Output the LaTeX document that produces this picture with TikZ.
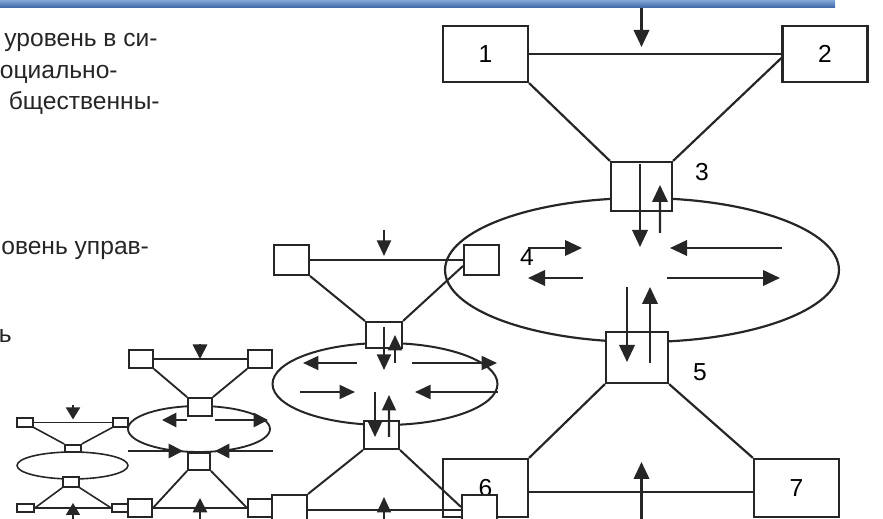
\documentclass[tikz,border=0pt]{standalone}
\usepackage{fontspec}
\setmainfont{Liberation Sans}
\usetikzlibrary{arrows.meta, shapes.geometric, calc}

\definecolor{bandeau}{RGB}{58,100,164}
\definecolor{bandeauclair}{RGB}{132,168,216}

\begin{document}
\begin{tikzpicture}[
  x=0.02cm, y=-0.02cm,
  font=\fontsize{14}{16}\selectfont,
  bloc/.style={
    draw=black!85, fill=white, line width=1.25pt, inner sep=0pt,
    minimum width=1.7cm, minimum height=1.12cm
  },
  moyen/.style={
    draw=black!85, fill=white, line width=1.15pt, inner sep=0pt,
    minimum width=0.7cm, minimum height=0.6cm
  },
  petit/.style={
    draw=black!85, fill=white, line width=1.05pt, inner sep=0pt,
    minimum width=0.48cm, minimum height=0.36cm
  },
  mini/.style={
    draw=black!85, fill=white, line width=0.9pt, inner sep=0pt,
    minimum width=0.32cm, minimum height=0.17cm
  },
  ovale/.style={draw=black!85, ellipse, line width=1.15pt, inner sep=0pt},
  lien/.style={line width=1.15pt, draw=black!85},
  fleche/.style={
    -{Triangle[length=3.4mm, width=3.1mm]},
    line width=1.25pt, draw=black!85
  },
  petite/.style={
    -{Triangle[length=3.1mm, width=2.8mm]},
    line width=1.15pt, draw=black!85
  },
  pointe/.style={
    -{Triangle[length=2.9mm, width=2.9mm]},
    line width=1pt, draw=black!85
  },
  texte/.style={anchor=base east, inner sep=0pt, text=black!85,
    font=\fontsize{14}{16}\selectfont}
]
  \clip (0,0) rectangle (883,519);

  % bandeau du haut
  \shade[top color=bandeauclair, bottom color=bandeau] (0,0) rectangle (835,8);

  % texte coupe a gauche
  \node[texte] (t1) at (158,47) {уровень в си-};
  \node[texte] (t2) at (118,79) {оциально-};
  \node[texte] (t3) at (160,110) {бщественны-};
  \node[texte, anchor=base west] (t4) at (1,255) {овень управ-};
  \node[texte] (t5) at (12,343) {ь};

  % niveau 1
  \node[ovale, line width=1.25pt, minimum width=7.88cm, minimum height=2.88cm] (e4) at (642,270) {};
  \node[bloc] (b1) at (485.5,54) {1};
  \node[bloc] (b2) at (825,54) {2};
  \node[bloc, minimum width=1.22cm, minimum height=0.98cm] (b3) at (641.5,186.5) {};
  \node[bloc, minimum width=1.24cm, minimum height=1.02cm] (b5) at (637,357.5) {};
  \node[bloc, minimum height=1.16cm] (b6) at (485.5,488) {6};
  \node[bloc, minimum height=1.16cm] (b7) at (796.5,488) {7};
  \node (n3) at (702,172) {3};
  \node (n4) at (527,257) {4};
  \node (n5) at (700,372) {5};

  \draw[lien, line width=1.25pt] (b1.east) -- (b2.west);
  \draw[lien, line width=1.25pt] (b1.south east) -- (b3.north west);
  \draw[lien, line width=1.25pt] ($(b2.west)+(0,4)$) -- (b3.north east);
  \draw[lien, line width=1.25pt] (b5.south west) -- (b6.north east);
  \draw[lien, line width=1.25pt] (b5.south east) -- (b7.north west);
  \draw[lien, line width=1.25pt] ($(b6.east)+(0,4)$) -- ($(b7.west)+(0,4)$);

  \coordinate (haut1) at (b3 |- b1.east);
  \coordinate (bas1) at (b3 |- b6.east);
  \draw[fleche] ($(haut1)+(0,-46)$) -- ($(haut1)+(0,-7)$);
  \draw[fleche] ($(bas1)+(0,40)$) -- ($(bas1)+(0,-26)$);

  \draw[fleche] ($(b3.north)+(-1.5,3)$) -- ($(e4)+(-2,-23)$);
  \draw[fleche] ($(e4)+(18,-37)$) -- ($(b3)+(18.5,-1.5)$);
  \draw[fleche] ($(e4)+(-15,17)$) -- ($(b5)+(-10,4.5)$);
  \draw[fleche] ($(b5)+(13,5.5)$) -- ($(e4)+(8,17)$);
  \foreach \xa/\xb/\dy in {-114/-60/-22, -59/-114/8, 140/28/-22, 25/138/8}
    \draw[fleche] ($(e4)+(\xa,\dy)$) -- ($(e4)+(\xb,\dy)$);

  % niveau 2
  \node[ovale, minimum width=4.5cm, minimum height=1.64cm] (e2) at (385,384) {};
  \node[moyen] (m1) at (291.5,260) {};
  \node[moyen] (m2) at (481.5,260) {};
  \node[moyen, minimum width=0.72cm, minimum height=0.52cm] (m3) at (384,335) {};
  \node[moyen, minimum height=0.56cm] (m4) at (381.5,435) {};
  \node[moyen] (m5) at (289.5,510) {};
  \node[moyen] (m6) at (479.5,510) {};

  \draw[lien] (m1.east) -- (m2.west);
  \draw[lien] (m1.south east) -- (m3.north west);
  \draw[lien] ($(m2.west)+(0,6)$) -- (m3.north east);
  \draw[lien] (m4.south west) -- (m5.north east);
  \draw[lien] (m4.south east) -- ($(m6.west)+(0,-3)$);
  \draw[lien] (m5.east) -- (m6.west);

  \coordinate (haut2) at (m3 |- m1.east);
  \coordinate (bas2) at (m3 |- m5.east);
  \draw[petite] ($(haut2)+(0,-30)$) -- ($(haut2)+(0,-4)$);
  \draw[petite] ($(bas2)+(0,15)$) -- ($(bas2)+(0,-13)$);

  \draw[petite] ($(m3)+(0,-8)$) -- ($(e2)+(-1,-14)$);
  \draw[petite] ($(e2)+(10,-21)$) -- ($(m3)+(11,0)$);
  \draw[petite] ($(e2)+(-10,8)$) -- ($(m4)+(-6.5,2)$);
  \draw[petite] ($(m4)+(7.5,2)$) -- ($(e2)+(4,11)$);
  \foreach \xa/\xb/\dy in {-28/-82/-21, 27/112/-21, -85/-30/8, 113/30/8}
    \draw[petite] ($(e2)+(\xa,\dy)$) -- ($(e2)+(\xb,\dy)$);

  % niveau 3
  \node[ovale, line width=1.05pt, minimum width=2.84cm, minimum height=0.92cm] (e3) at (199,429) {};
  \node[petit] (p1) at (141,359) {};
  \node[petit] (p2) at (260,359) {};
  \node[petit] (p3) at (200,407) {};
  \node[petit, minimum width=0.44cm, minimum height=0.34cm] (p4) at (199,461.5) {};
  \node[petit] (p5) at (140,508) {};
  \node[petit] (p6) at (260,508) {};

  \draw[lien, line width=1.05pt] (p1.east) -- (p2.west);
  \draw[lien, line width=1.05pt] (p1.south east) -- (p3.north west);
  \draw[lien, line width=1.05pt] (p2.south west) -- (p3.north east);
  \draw[lien, line width=1.05pt] (p4.south west) -- (p5.east);
  \draw[lien, line width=1.05pt] (p4.south east) -- (p6.west);
  \draw[lien, line width=1.05pt] (p5.east) -- (p6.west);

  \coordinate (haut3) at (p3 |- p1.east);
  \coordinate (bas3) at (p3 |- p5.east);
  \draw[pointe] ($(haut3)+(0,-15)$) -- (haut3);
  \draw[pointe] ($(bas3)+(0,15)$) -- ($(bas3)+(0,-10)$);
  \foreach \xa/\xb/\dy in {-12/-37/-9, 16/69/-9, -71/-16/22, 74/16/22}
    \draw[pointe] ($(e3)+(\xa,\dy)$) -- ($(e3)+(\xb,\dy)$);

  % niveau 4
  \node[ovale, line width=0.9pt, minimum width=2.22cm, minimum height=0.54cm] (e5) at (72.5,465.5) {};
  \node[mini] (q1) at (25,422.5) {};
  \node[mini, minimum width=0.3cm] (q2) at (120.5,422.5) {};
  \node[mini, minimum height=0.15cm] (q3) at (73,448.5) {};
  \node[mini, minimum height=0.2cm] (q4) at (71,482) {};
  \node[mini, minimum width=0.34cm, minimum height=0.16cm] (q5) at (25.5,508) {};
  \node[mini, minimum height=0.16cm] (q6) at (120,508) {};

  \draw[lien, line width=0.9pt] (q1.east) -- (q2.west);
  \draw[lien, line width=0.9pt] (q1.south east) -- (q3.north west);
  \draw[lien, line width=0.9pt] (q2.south west) -- (q3.north east);
  \draw[lien, line width=0.9pt] (q4.south west) -- (q5.east);
  \draw[lien, line width=0.9pt] (q4.south east) -- (q6.west);
  \draw[lien, line width=0.9pt] (q5.east) -- (q6.west);

  \coordinate (haut4) at (q3 |- q1.east);
  \coordinate (bas4) at (q3 |- q5.east);
  \draw[pointe, -{Triangle[length=2.4mm, width=2.8mm]}] ($(haut4)+(0,-17)$) -- ($(haut4)+(0,-3)$);
  \draw[pointe, -{Triangle[length=2.4mm, width=2.8mm]}] ($(bas4)+(0,15)$) -- ($(bas4)+(0,-5)$);

\end{tikzpicture}
\end{document}
